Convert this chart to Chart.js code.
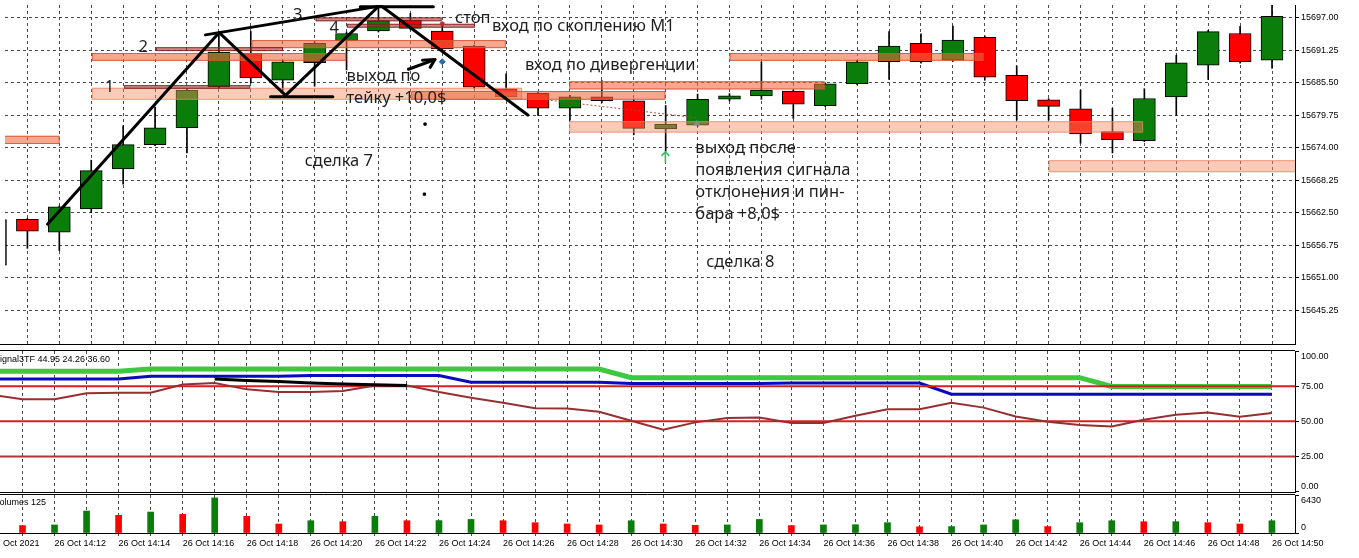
<!DOCTYPE html>
<html>
<head>
<meta charset="utf-8">
<script src="https://cdn.jsdelivr.net/npm/chart.js@4.4.1/dist/chart.umd.min.js"></script>
<style>
  html, body { margin: 0; padding: 0; background: #fff; overflow: hidden; }
  #wrap { position: relative; width: 1359px; height: 558px; }
  canvas { position: absolute; left: 0; }
</style>
</head>
<body>
<div id="wrap">
  <canvas id="main" width="1359" height="349" style="top:0px"></canvas>
  <canvas id="ind" width="1359" height="143" style="top:350px"></canvas>
  <canvas id="vol" width="1359" height="64" style="top:494px"></canvas>
</div>
<script>
// M1 bars, 26 Oct 2021, 14:10 .. 14:50
const times = ['14:10','14:11','14:12','14:13','14:14','14:15','14:16','14:17','14:18','14:19',
  '14:20','14:21','14:22','14:23','14:24','14:25','14:26','14:27','14:28','14:29',
  '14:30','14:31','14:32','14:33','14:34','14:35','14:36','14:37','14:38','14:39',
  '14:40','14:41','14:42','14:43','14:44','14:45','14:46','14:47','14:48','14:49','14:50'];

const opens = [15653.2,15661.34,15659.05,15663.19,15670.26,15674.57,15677.56,15684.8,15690.79,15685.96,
  15689.06,15692.96,15694.69,15696.6,15694.69,15692.0,15684.46,15683.65,15681.0,15683.03,
  15682.34,15677.33,15678.0,15682.6,15683.2,15684.06,15681.47,15685.37,15689.24,15692.5,
  15689.5,15693.55,15686.82,15682.5,15680.9,15676.87,15675.26,15683.03,15688.65,15694.24,15689.5];
const highs = [15662.0,15661.5,15663.7,15671.8,15677.9,15681.2,15684.5,15694.4,15694.6,15689.5,
  15692.8,15694.5,15699.3,15697.8,15695.96,15692.2,15687.1,15683.9,15683.3,15685.9,
  15682.6,15681.5,15683.5,15683.6,15689.2,15684.3,15685.5,15689.5,15694.6,15694.2,
  15695.55,15693.8,15688.5,15682.7,15684.2,15681.0,15684.46,15690.4,15694.8,15695.5,15699.3];
const lows = [15652.0,15656.2,15655.8,15662.5,15667.55,15674.4,15673.1,15684.6,15685.5,15684.06,
  15684.9,15687.8,15694.5,15694.9,15691.3,15684.5,15682.9,15679.75,15678.9,15682.0,
  15676.3,15673.4,15677.8,15682.3,15682.6,15679.2,15681.3,15685.2,15686.1,15689.0,
  15689.3,15685.96,15678.9,15678.9,15674.85,15673.1,15675.1,15679.75,15686.1,15689.0,15688.1];
const closes = [15661.3,15659.22,15663.53,15669.97,15674.57,15677.56,15684.23,15690.96,15686.36,15689.24,
  15692.51,15694.24,15696.53,15695.15,15691.53,15684.75,15683.03,15681.0,15683.03,15682.34,
  15677.44,15678.2,15682.6,15683.2,15684.23,15681.75,15685.32,15689.24,15692.0,15689.24,
  15693.1,15686.53,15682.34,15681.35,15676.47,15675.44,15682.73,15689.06,15694.58,15689.24,15697.28];

const volumes = [1300,1255,1363,3714,2994,3550,3158,5939,2830,1522,
  2078,1914,2830,2078,2100,2290,2078,1745,1527,1363,
  2078,1527,1300,1363,2290,1254,1363,1400,1745,1050,
  1090,1363,2236,1090,1745,2078,1900,1920,1745,1527,2078];

// Signal3TF lines
const greenLine = [85.6,85.6,85.6,85.6,85.6,87.2,87.2,87.2,87.2,87.2,
  87.2,87.2,87.2,87.2,87.2,87.2,87.2,87.2,87.2,87.2,
  81.0,81.0,81.0,81.0,81.0,81.0,81.0,81.0,81.0,81.0,
  81.0,81.0,81.0,81.0,81.0,74.8,74.8,74.8,74.8,74.8,74.8];
const blueLine = [80.1,80.1,80.1,80.1,80.1,82.0,82.0,82.0,82.0,82.0,
  82.5,82.5,82.5,82.5,82.5,77.8,77.8,77.8,77.8,77.8,
  76.9,76.9,76.9,76.9,76.9,77.2,77.2,77.2,77.2,77.2,
  69.2,69.2,69.2,69.2,69.2,69.2,69.2,69.2,69.2,69.2,69.2];
const brownLine = [69.0,65.6,65.6,69.9,70.3,70.3,76.2,77.3,72.7,70.8,
  70.8,71.5,75.5,75.5,70.8,66.8,63.2,59.3,59.0,56.7,
  50.4,44.0,49.2,52.3,52.7,48.7,48.7,53.9,58.6,58.6,
  63.2,59.7,53.4,49.6,47.3,46.3,51.1,54.6,56.2,53.2,55.8];
const blackLine = [null,null,null,null,null,null,null,80.0,79.0,78.3,
  77.3,76.6,76.0,75.4,null,null,null,null,null,null,
  null,null,null,null,null,null,null,null,null,null,
  null,null,null,null,null,null,null,null,null,null,null];
const levels = [75, 50, 25];

const priceTicks = [15697.00,15691.25,15685.50,15679.75,15674.00,15668.25,15662.50,15656.75,15651.00,15645.25];
const indTicks = [0, 25, 50, 75, 100];
const volTicks = [0, 6430];

// drawn objects on the price chart (bar index, price)
const zones = [
  { from: 0, to: 2.01, top: 15676.13, bottom: 15674.68, kind: 'hi' },
  { from: 3.02, to: 10.99, top: 15690.79, bottom: 15689.41, kind: 'hi' },
  { from: 3.02, to: 16.5, top: 15684.63, bottom: 15682.51, kind: 'lo' },
  { from: 8.02, to: 15.99, top: 15693.08, bottom: 15691.65, kind: 'hi' },
  { from: 13.03, to: 20.99, top: 15684.06, bottom: 15682.51, kind: 'hi' },
  { from: 17.98, to: 25.98, top: 15685.79, bottom: 15684.34, kind: 'hi' },
  { from: 17.98, to: 35.96, top: 15678.71, bottom: 15676.7, kind: 'lo' },
  { from: 23.0, to: 30.96, top: 15690.79, bottom: 15689.41, kind: 'hi' },
  { from: 33.0, to: 41.5, top: 15671.81, bottom: 15669.68, kind: 'lo' },
  { from: 5.03, to: 9.01, top: 15691.82, bottom: 15691.13, kind: 'dk' },
  { from: 4.03, to: 7.98, top: 15685.1, bottom: 15684.46, kind: 'dk' },
  { from: 10.03, to: 13.98, top: 15697.1, bottom: 15696.41, kind: 'dk' },
  { from: 11.01, to: 15.02, top: 15695.96, bottom: 15695.27, kind: 'dk' }
];
const zoneStyle = {
  hi: { fill: 'rgba(240,104,62,0.58)', line: 'rgba(214,84,48,0.85)' },
  lo: { fill: 'rgba(245,140,100,0.45)', line: 'rgba(236,130,95,0.7)' },
  dk: { fill: 'rgba(160,40,40,0.55)', line: 'rgba(130,25,25,0.8)' }
};

const trendSegments = [
  [[1.63, 15660.48], [7.01, 15694.41]],
  [[7.01, 15694.41], [9.09, 15683.3]],
  [[8.62, 15683.03], [10.57, 15683.03]],
  [[9.09, 15683.3], [12.05, 15699.29]],
  [[6.58, 15694.0], [11.94, 15699.0]],
  [[11.43, 15699.0], [13.72, 15699.0]],
  [[12.05, 15699.29], [16.68, 15679.8]],
  [[12.94, 15687.91], [13.77, 15689.63]],
  [[13.38, 15689.51], [13.77, 15689.63], [13.62, 15688.25]]
];
const dottedSegment = [[17.4, 15682.4], [22.0, 15679.3]];

const marks = [
  { x: 14.0, y: 15689.24, style: 'rectRot', r: 3, color: '#2a6ab0' },
  { x: 14.0, y: 15695.96, style: 'circle', r: 2, color: '#b03030' },
  { x: 13.46, y: 15678.2, style: 'rect', r: 1.6, color: '#000' },
  { x: 13.44, y: 15665.8, style: 'rect', r: 1.6, color: '#000' },
  { x: 21.98, y: 15678.3, style: 'triangle', r: 3, color: '#8a8a8a' }
];
const signalArrow = { x: 20.99, y: 15672.4 };

const notes = [
  { text: '1', x: 3.42, y: 15684.63 },
  { text: '2', x: 4.48, y: 15691.88 },
  { text: '3', x: 9.32, y: 15697.4 },
  { text: '4', x: 10.47, y: 15695.15 },
  { text: 'стоп', x: 14.4, y: 15696.97 },
  { text: 'вход по скоплению М1', x: 15.56, y: 15695.5 },
  { text: 'вход по дивергенции', x: 16.59, y: 15688.6 },
  { text: 'выход по', x: 11.0, y: 15686.7 },
  { text: 'тейку +10,0$', x: 11.0, y: 15682.73 },
  { text: 'сделка 7', x: 9.69, y: 15671.69 },
  { text: 'выход после', x: 21.93, y: 15673.94 },
  { text: 'появления сигнала', x: 21.93, y: 15670.06 },
  { text: 'отклонения и пин-', x: 21.93, y: 15666.17 },
  { text: 'бара +8,0$', x: 21.93, y: 15662.3 },
  { text: 'сделка 8', x: 22.27, y: 15653.75 }
];

const X_MIN = 0.298, X_MAX = 40.72;
const GRID = 'rgba(55,55,55,0.9)';
const BULL = '#0a7d0a', BEAR = '#ff0000';
const AXIS_FONT = { family: 'Liberation Sans', size: 9 };

Chart.defaults.font.family = 'Liberation Sans';
Chart.defaults.font.size = 9;
Chart.defaults.color = '#000';

function xAxis(withLabels) {
  return {
    type: 'linear', min: X_MIN, max: X_MAX, offset: false,
    afterBuildTicks: s => { s.ticks = times.map((t, i) => ({ value: i })); },
    afterFit: s => { s.paddingLeft = 0; s.paddingRight = 0; s.height = withLabels ? 25 : 0; },
    grid: { offset: false, color: GRID, lineWidth: 1, drawTicks: withLabels, tickLength: 4, tickBorderDash: [3, 3], tickColor: GRID },
    border: { display: false, dash: [3, 3] },
    ticks: {
      display: withLabels, autoSkip: false, maxRotation: 0, align: 'start', padding: 1, font: AXIS_FONT,
      callback: v => {
        const i = Math.round(v);
        if (i % 2) return '';
        return i === 0 ? '26 Oct 2021' : '26 Oct ' + times[i];
      }
    }
  };
}

function yAxis(min, max, tickValues, fmt, gridOnArea) {
  return {
    position: 'right', min: min, max: max,
    afterBuildTicks: s => { s.ticks = tickValues.map(v => ({ value: v })); },
    afterFit: s => { s.width = 64; s.paddingTop = 0; s.paddingBottom = 0; },
    grid: { color: GRID, drawOnChartArea: gridOnArea, tickLength: 4, tickColor: '#000', tickBorderDash: [] },
    border: { display: true, color: '#000', width: 1, dash: [3, 3] },
    ticks: { padding: 2, font: AXIS_FONT, color: '#000', callback: fmt }
  };
}

// black frame line on top / bottom of a sub window
const framePlugin = {
  id: 'frame',
  afterDraw(chart, args, opts) {
    const { ctx, chartArea: a } = chart;
    ctx.save();
    ctx.strokeStyle = '#000';
    ctx.lineWidth = 1;
    ctx.beginPath();
    if (opts.top) { ctx.moveTo(0, a.top - 0.5); ctx.lineTo(a.right, a.top - 0.5); }
    if (opts.bottom) { ctx.moveTo(0, a.bottom + 0.5); ctx.lineTo(a.right + 1, a.bottom + 0.5); }
    ctx.stroke();
    if (opts.title) {
      ctx.fillStyle = '#000';
      ctx.font = '9px "Liberation Sans"';
      ctx.textBaseline = 'middle';
      ctx.fillText(opts.title, -6, a.top + opts.titleY);
    }
    ctx.restore();
  }
};

// zones over the candles, text notes on top
const drawingsPlugin = {
  id: 'drawings',
  afterDatasetDraw(chart, args) {
    if (args.index !== 1) return;
    const { ctx, chartArea: a, scales: { x, y } } = chart;
    ctx.save();
    ctx.beginPath();
    ctx.rect(a.left, a.top, a.right - a.left, a.bottom - a.top);
    ctx.clip();
    zones.forEach(z => {
      const st = zoneStyle[z.kind];
      const x1 = x.getPixelForValue(z.from), x2 = x.getPixelForValue(z.to);
      const y1 = y.getPixelForValue(z.top), y2 = y.getPixelForValue(z.bottom);
      ctx.fillStyle = st.fill;
      ctx.fillRect(x1, y1, x2 - x1, y2 - y1);
      ctx.strokeStyle = st.line;
      ctx.lineWidth = 1;
      ctx.strokeRect(x1 + 0.5, y1 + 0.5, x2 - x1 - 1, y2 - y1 - 1);
    });
    ctx.restore();
  },
  afterDatasetsDraw(chart) {
    const { ctx, scales: { x, y } } = chart;
    ctx.save();
    // green signal arrow
    const ax = x.getPixelForValue(signalArrow.x), ay = y.getPixelForValue(signalArrow.y);
    ctx.strokeStyle = '#3cc060';
    ctx.lineWidth = 1.6;
    ctx.beginPath();
    ctx.moveTo(ax, ay + 6); ctx.lineTo(ax, ay - 5);
    ctx.moveTo(ax - 4, ay - 1); ctx.lineTo(ax, ay - 5); ctx.lineTo(ax + 4, ay - 1);
    ctx.stroke();
    ctx.fillStyle = '#1e1e1e';
    ctx.font = '16.5px "Noto Sans"';
    ctx.textBaseline = 'middle';
    ctx.textAlign = 'left';
    notes.forEach(n => ctx.fillText(n.text, x.getPixelForValue(n.x), y.getPixelForValue(n.y)));
    ctx.restore();
  }
};

const idx = times.map((t, i) => i);
const upDown = idx.map(i => closes[i] >= opens[i] ? BULL : BEAR);

const mainSets = [
  {
    type: 'bar', order: 3, grouped: false, barThickness: 1,
    data: idx.map(i => ({ x: i, y: [lows[i], highs[i]] })),
    backgroundColor: '#000', borderWidth: 0
  },
  {
    type: 'bar', order: 2, grouped: false, barThickness: 22,
    data: idx.map(i => ({ x: i, y: [opens[i], closes[i]] })),
    backgroundColor: upDown, borderColor: '#000', borderWidth: 1, borderSkipped: false
  }
];
trendSegments.forEach(seg => mainSets.push({
  type: 'line', order: 1, data: seg.map(p => ({ x: p[0], y: p[1] })),
  borderColor: '#000', borderWidth: 3, pointRadius: 0, tension: 0, borderCapStyle: 'round', borderJoinStyle: 'round'
}));
mainSets.push({
  type: 'line', order: 1, data: dottedSegment.map(p => ({ x: p[0], y: p[1] })),
  borderColor: 'rgba(170,70,50,0.9)', borderWidth: 1, borderDash: [2, 2], pointRadius: 0
});
marks.forEach(m => mainSets.push({
  type: 'line', order: 0, showLine: false, data: [{ x: m.x, y: m.y }],
  pointStyle: m.style, pointRadius: m.r, pointBackgroundColor: m.color, pointBorderColor: m.color, pointBorderWidth: 1
}));

const common = {
  responsive: false, animation: false, events: [],
  plugins: { legend: { display: false }, tooltip: { enabled: false } }
};

new Chart(document.getElementById('main'), {
  data: { datasets: mainSets },
  options: Object.assign({}, common, {
    layout: { padding: { top: 0, left: 0, right: 0, bottom: 1 } },
    scales: {
      x: xAxis(false),
      y: yAxis(15639.26, 15699.29, priceTicks, v => Number(v).toFixed(2), true)
    },
    plugins: Object.assign({}, common.plugins, { frame: { bottom: true } })
  }),
  plugins: [drawingsPlugin, framePlugin]
});

const lineSet = (vals, color, width, order) => ({
  type: 'line', order: order, data: idx.map(i => ({ x: i, y: vals[i] })),
  borderColor: color, borderWidth: width, pointRadius: 0, tension: 0, spanGaps: false
});
const indSets = [
  lineSet(greenLine, 'rgb(62,200,62)', 5, 6),
  lineSet(blueLine, 'rgb(10,10,190)', 3, 5)
];
levels.forEach((lv, k) => indSets.push({
  type: 'line', order: 4, data: [{ x: X_MIN - 1, y: lv }, { x: X_MAX + 1, y: lv }],
  borderColor: k === 2 ? 'rgb(178,52,52)' : 'rgb(214,32,32)', borderWidth: 2, pointRadius: 0
}));
indSets.push(lineSet(brownLine, 'rgb(150,48,48)', 2, 3));
indSets.push(lineSet(blackLine, '#000', 3, 2));

const indY = yAxis(-0.35, 100, indTicks, null, false);
indY.ticks.callback = v => {
  const s = Number(v).toFixed(2);
  if (v === 100) return ['', s];
  if (v === 0) return [s, ''];
  return s;
};
new Chart(document.getElementById('ind'), {
  data: { datasets: indSets },
  options: Object.assign({}, common, {
    layout: { padding: { top: 1, left: 0, right: 0, bottom: 1 } },
    scales: { x: xAxis(false), y: indY },
    plugins: Object.assign({}, common.plugins, {
      frame: { top: true, bottom: true, title: 'Signal3TF 44.95 24.26 36.60', titleY: 9 }
    })
  }),
  plugins: [framePlugin]
});

const volY = yAxis(0, 6430, volTicks, null, false);
volY.ticks.callback = v => v === 6430 ? ['', '6430'] : ['0', ''];
new Chart(document.getElementById('vol'), {
  data: {
    datasets: [{
      type: 'bar', grouped: false, barThickness: 6,
      data: idx.map(i => ({ x: i, y: volumes[i] })),
      backgroundColor: idx.map(i => i > 0 && volumes[i] > volumes[i - 1] ? BULL : BEAR)
    }]
  },
  options: Object.assign({}, common, {
    layout: { padding: { top: 1, left: 0, right: 0, bottom: 0 } },
    scales: { x: xAxis(true), y: volY },
    plugins: Object.assign({}, common.plugins, {
      frame: { top: true, bottom: true, title: 'Volumes 125', titleY: 8 }
    })
  }),
  plugins: [framePlugin]
});
</script>
</body>
</html>
